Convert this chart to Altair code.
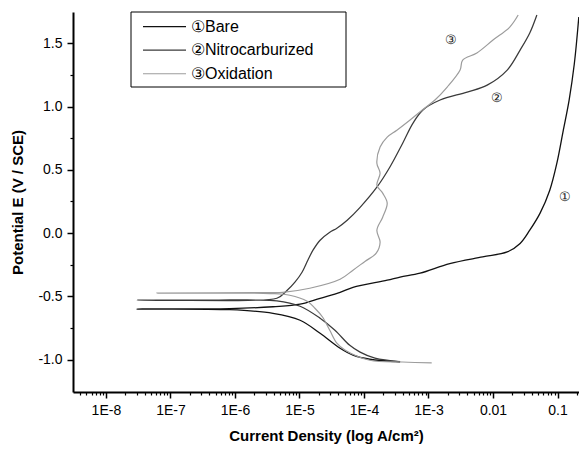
import json
import altair as alt
import pandas as pd

FONT = "Liberation Sans, Arial, sans-serif"

# ---- series data (log10 current density, potential E) ----
series_names = ["①Bare", "②Nitrocarburized", "③Oxidation"]
series_colors = ["#111111", "#3a3a3a", "#9c9c9c"]
series_widths = [1.3, 1.2, 1.1]

bare_logi = [-3.44, -3.91, -4.17, -4.37, -4.68, -4.99, -5.41, -6.08, -7.52, -6.08,
             -5.41, -4.99, -4.68, -4.37, -4.17, -3.64, -3.44, -3.13, -2.67, -2.16,
             -1.78, -1.58, -1.43, -1.27, -1.12, -1.01, -0.91, -0.82, -0.74, -0.67]
bare_e = [-1.017, -0.997, -0.965, -0.910, -0.792, -0.689, -0.634, -0.605, -0.600, -0.597,
          -0.582, -0.562, -0.515, -0.468, -0.428, -0.372, -0.347, -0.317, -0.241, -0.188,
          -0.149, -0.082, 0.023, 0.158, 0.339, 0.553, 0.814, 1.052, 1.337, 1.709]

nitro_logi = [-3.44, -3.83, -4.06, -4.22, -4.45, -4.68, -4.99, -5.35, -6.08, -7.52,
              -6.08, -5.35, -5.19, -5.07, -4.96, -4.87, -4.79, -4.68, -4.53, -4.42,
              -4.26, -4.06, -3.80, -3.60, -3.40, -3.24, -3.09, -2.82, -2.40, -2.09,
              -1.78, -1.58, -1.43, -1.32]
nitro_e = [-1.017, -0.989, -0.941, -0.887, -0.768, -0.673, -0.578, -0.535, -0.533, -0.530,
           -0.527, -0.515, -0.452, -0.388, -0.309, -0.214, -0.135, -0.056, 0.007, 0.039,
           0.102, 0.204, 0.363, 0.521, 0.711, 0.870, 0.972, 1.052, 1.115, 1.170,
           1.289, 1.447, 1.582, 1.724]

oxid_logi = [-2.95, -3.40, -3.91, -4.29, -4.42, -4.53, -4.64, -4.76, -4.88, -5.15,
             -5.46, -7.21, -5.46, -5.26, -4.84, -4.37, -4.17, -3.98, -3.81, -3.75,
             -3.80, -3.71, -3.64, -3.71, -3.80, -3.75, -3.80, -3.75, -3.64, -3.49,
             -3.29, -3.10, -2.90, -2.71, -2.51, -2.47, -2.25, -2.00, -1.74, -1.61]
oxid_e = [-1.025, -1.019, -1.005, -0.926, -0.870, -0.768, -0.665, -0.594, -0.539, -0.491,
          -0.478, -0.474, -0.470, -0.468, -0.436, -0.365, -0.293, -0.222, -0.159, -0.072,
          0.023, 0.126, 0.237, 0.316, 0.379, 0.474, 0.553, 0.680, 0.759, 0.814,
          0.893, 0.972, 1.052, 1.154, 1.289, 1.368, 1.424, 1.526, 1.629, 1.724]

# curve number annotations
annot_labels = ["③", "②", "①"]
annot_logi = [-2.65, -1.94, -0.88]
annot_e = [1.526, 1.067, 0.284]

# ---- axis ticks and labels ----
x_tick_exp = [-8, -7, -6, -5, -4, -3, -2, -1]
x_tick_labels = ["1E-8", "1E-7", "1E-6", "1E-5", "1E-4", "1E-3", "0.01", "0.1"]
y_tick_values = [-1.0, -0.5, 0.0, 0.5, 1.0, 1.5]
y_tick_labels = ["-1.0", "-0.5", "0.0", "0.5", "1.0", "1.5"]
y_minor_values = [-0.75, -0.25, 0.25, 0.75, 1.25]

x_tick_values = [10.0 ** e for e in x_tick_exp]
x_minor_values = [m * 10.0 ** e for e in range(-9, 0) for m in range(2, 10)
                  if 10 ** -8.51 < m * 10.0 ** e < 10 ** -0.667]

rows = []
for name, li, ee in zip(series_names, [bare_logi, nitro_logi, oxid_logi],
                        [bare_e, nitro_e, oxid_e]):
    for k, (a, b) in enumerate(zip(li, ee)):
        rows.append({"series": name, "idx": k, "current": 10.0 ** a, "E": b})
df = pd.DataFrame(rows)

annot_df = pd.DataFrame({"label": annot_labels,
                         "current": [10.0 ** v for v in annot_logi],
                         "E": annot_e})

x_scale = alt.Scale(type="log", domain=[10 ** -8.51, 10 ** -0.667], nice=False)
y_scale = alt.Scale(domain=[-1.256, 1.748], nice=False, zero=False)

x_label_expr = json.dumps(x_tick_labels) + "[round(log(datum.value)/LN10)+8]"
y_label_expr = json.dumps(y_tick_labels) + "[round(datum.value*2)+2]"

x_major = alt.Axis(orient="bottom", values=x_tick_values, labelExpr=x_label_expr,
                   tickSize=6, tickWidth=1.5, tickColor="black",
                   domainWidth=2, domainColor="black", grid=False,
                   labelFont=FONT, labelFontSize=14, labelColor="black",
                   labelPadding=5, labelFlush=False, labelOverlap=False,
                   title="Current Density (log A/cm²)", titleFont=FONT,
                   titleFontSize=15, titleFontWeight="bold", titleColor="black",
                   titlePadding=11)
x_minor = alt.Axis(orient="bottom", values=x_minor_values, labels=False,
                   tickSize=3, tickWidth=1.2, tickColor="black",
                   domain=False, grid=False, title=None)
y_major = alt.Axis(orient="left", values=y_tick_values, labelExpr=y_label_expr,
                   tickSize=6, tickWidth=1.5, tickColor="black",
                   domainWidth=2, domainColor="black", grid=False,
                   labelFont=FONT, labelFontSize=14, labelColor="black",
                   labelPadding=5, labelFlush=False, labelOverlap=False,
                   title="Potential E (V / SCE)", titleFont=FONT,
                   titleFontSize=15, titleFontWeight="bold", titleColor="black",
                   titlePadding=12)
y_minor = alt.Axis(orient="left", values=y_minor_values, labels=False,
                   tickSize=3, tickWidth=1.2, tickColor="black",
                   domain=False, grid=False, title=None)

lines = alt.Chart(df).mark_line(clip=True, interpolate="catmull-rom").encode(
    x=alt.X("current:Q", scale=x_scale, axis=x_major),
    y=alt.Y("E:Q", scale=y_scale, axis=y_major),
    color=alt.Color("series:N", scale=alt.Scale(domain=series_names, range=series_colors),
                    legend=None),
    strokeWidth=alt.StrokeWidth("series:N",
                                scale=alt.Scale(domain=series_names, range=series_widths),
                                legend=None),
    detail="series:N",
    order="idx:Q",
)

annots = alt.Chart(annot_df).mark_text(font=FONT, fontSize=13, color="#222222").encode(
    x=alt.X("current:Q", scale=x_scale, axis=x_minor),
    y=alt.Y("E:Q", scale=y_scale, axis=y_minor),
    text="label:N",
)

one = pd.DataFrame({"k": [0]})
legend_box = alt.Chart(one).mark_rect(fill="white", stroke="black", strokeWidth=1).encode(
    x=alt.value(58), x2=alt.value(273), y=alt.value(0), y2=alt.value(75))

legend_layers = [legend_box]
for i, (name, col, w) in enumerate(zip(series_names, series_colors, series_widths)):
    yy = 14.7 + 23.5 * i
    legend_layers.append(
        alt.Chart(one).mark_rule(color=col, strokeWidth=w).encode(
            x=alt.value(70), x2=alt.value(113), y=alt.value(yy)))
    legend_layers.append(
        alt.Chart(one).mark_text(font=FONT, fontSize=16, color="black", align="left",
                                 baseline="middle").encode(
            x=alt.value(118), y=alt.value(yy), text=alt.value(name)))

chart = alt.layer(lines, annots, *legend_layers).resolve_axis(
    x="independent", y="independent"
).properties(
    width=506, height=380,
    autosize=alt.AutoSizeParams(type="none"),
    padding={"left": 65, "top": 4, "right": 0, "bottom": 56},
).configure_view(stroke=None)

chart.save("out.html", embed_options={"renderer": "svg", "actions": False})
